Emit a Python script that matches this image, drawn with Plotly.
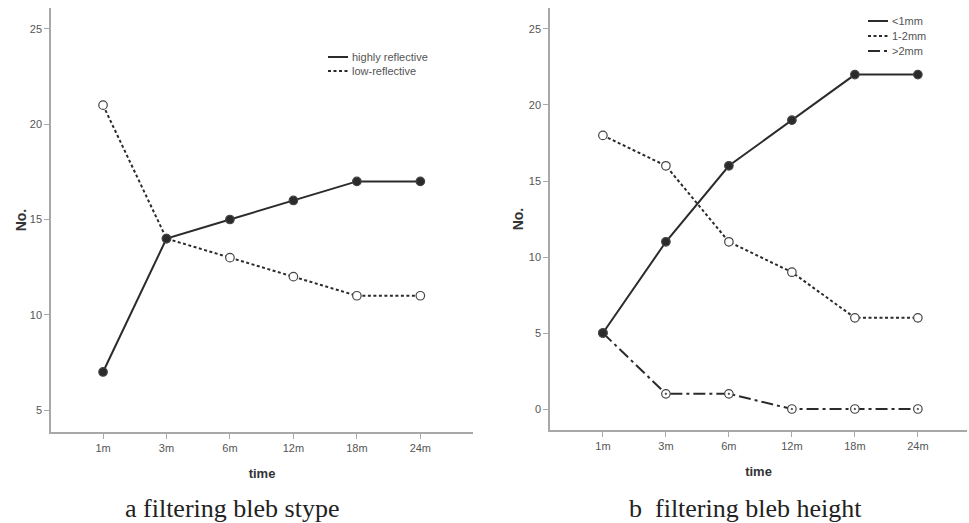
import plotly.graph_objects as go

W, H = 969, 523

time_labels = ["1m", "3m", "6m", "12m", "18m", "24m"]

# panel a
a_names = ["highly reflective", "low-reflective"]
a_high = [7, 14, 15, 16, 17, 17]
a_low = [21, 14, 13, 12, 11, 11]

# panel b
b_names = ["<1mm", "1-2mm", ">2mm"]
b_lt1 = [5, 11, 16, 19, 22, 22]
b_1to2 = [18, 16, 11, 9, 6, 6]
b_gt2 = [5, 1, 1, 0, 0, 0]

captions = ["a filtering bleb stype", "b  filtering bleb height"]
y_ticks_a = [5, 10, 15, 20, 25]
y_ticks_b = [0, 5, 10, 15, 20, 25]

LINE = "#2b2b2b"
AX = "#a8a8a8"
TXT = "#555555"
DOT = "3px,2.5px"
DASHDOT = "12px,4px,3px,4px"

def px_x(p):
    return p / W

def px_y(p):
    return 1 - p / H

fig = go.Figure()

def add(x, y, xa, ya, dash, filled, symbol="circle"):
    fig.add_trace(go.Scatter(
        x=x, y=y, xaxis=xa, yaxis=ya, mode="lines+markers",
        line=dict(color=LINE, width=2, dash=dash),
        marker=dict(size=8.5, symbol=symbol,
                    color=LINE if filled else "white",
                    line=dict(color="#444444", width=1.2)),
        showlegend=False, cliponaxis=False))

# panel a traces
add(time_labels, a_low, "x", "y", DOT, False)
add(time_labels, a_high, "x", "y", "solid", True)
# panel b traces
add(time_labels, b_1to2, "x2", "y2", DOT, False)
add(time_labels, b_gt2, "x2", "y2", DASHDOT, False, symbol="circle-dot")
add(time_labels, b_lt1, "x2", "y2", "solid", True)

axis_common = dict(showline=True, linecolor=AX, linewidth=1.5, showgrid=False,
                   zeroline=False, ticks="outside", ticklen=5, tickcolor=AX,
                   tickfont=dict(family="Liberation Sans, Arial", size=11, color=TXT))

title_font = dict(family="Liberation Sans, Arial", size=13, color="#333333")

fig.update_layout(
    width=W, height=H, margin=dict(l=0, r=0, t=0, b=0),
    paper_bgcolor="white", plot_bgcolor="white",
    xaxis=dict(domain=[px_x(51), px_x(473)], anchor="y", type="category",
               categoryorder="array", categoryarray=time_labels,
               range=[-0.82, 5.83],
               title=dict(text="<b>time</b>", standoff=16, font=title_font),
               **axis_common),
    yaxis=dict(domain=[px_y(432), px_y(8)], anchor="x", range=[3.85, 26.1],
               tickvals=y_ticks_a,
               title=dict(text="<b>No.</b>", standoff=0, font=dict(title_font, size=14)),
               **axis_common),
    xaxis2=dict(domain=[px_x(550), px_x(967)], anchor="y2", type="category",
                categoryorder="array", categoryarray=time_labels,
                range=[-0.84, 5.78],
                title=dict(text="<b>time</b>", standoff=16, font=title_font),
                **axis_common),
    yaxis2=dict(domain=[px_y(430), px_y(8)], anchor="x2", range=[-1.38, 26.38],
                tickvals=y_ticks_b,
                title=dict(text="<b>No.</b>", standoff=2, font=dict(title_font, size=14)),
                **axis_common),
)

# custom legends (line sample without markers)
def legend_entry(x0, x1, y, dash, text):
    fig.add_shape(type="line", xref="paper", yref="paper",
                  x0=px_x(x0), x1=px_x(x1), y0=px_y(y), y1=px_y(y),
                  line=dict(color=LINE, width=2, dash=dash))
    fig.add_annotation(xref="paper", yref="paper", x=px_x(x1 + 2), y=px_y(y),
                       text=text, showarrow=False, xanchor="left", yanchor="middle",
                       font=dict(family="Liberation Sans, Arial", size=11, color=TXT))

legend_entry(328, 348, 57, "solid", a_names[0])
legend_entry(328, 348, 71, DOT, a_names[1])
legend_entry(868, 888, 21, "solid", b_names[0].replace("<", "&lt;"))
legend_entry(868, 888, 36, DOT, b_names[1])
legend_entry(868, 888, 51, DASHDOT, b_names[2].replace(">", "&gt;"))

# captions
for cx, text in zip([232, 745], captions):
    fig.add_annotation(xref="paper", yref="paper", x=px_x(cx), y=px_y(508),
                       text=text.replace("  ", "&nbsp; "), showarrow=False,
                       xanchor="center", yanchor="middle",
                       font=dict(family="Liberation Serif, Times New Roman", size=26, color="#222222"))

fig.write_html("out.html", config={"displayModeBar": False},
               post_script="document.body.style.margin='0';document.body.style.overflow='hidden';")
